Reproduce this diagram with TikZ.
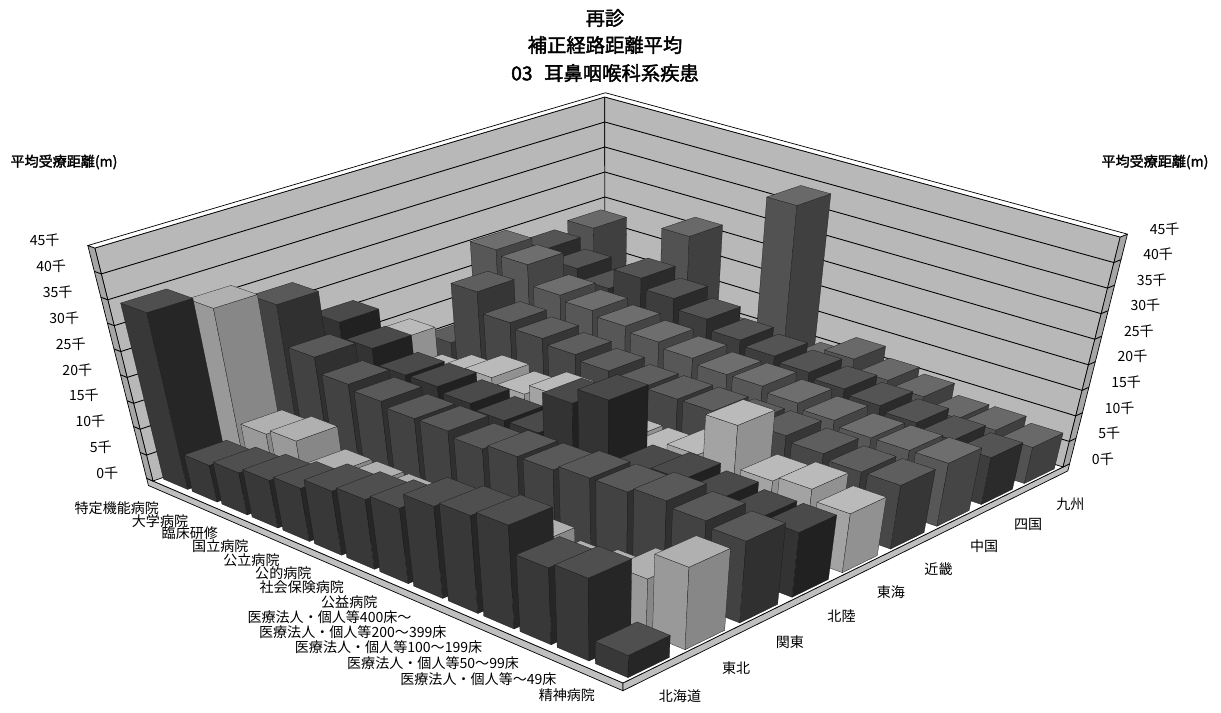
\documentclass[tikz,border=0pt]{standalone}
\usepackage{fontspec}
\newfontfamily\jp[AutoFakeBold=2]{Noto Sans CJK JP}
\usetikzlibrary{calc}

% (u,v,h) of the chart box onto the page, in pixels
\pgfkeys{/chart/.cd, u/.store in=\chU, v/.store in=\chV, h/.store in=\chH}
\tikzdeclarecoordinatesystem{chart}{%
  \pgfkeys{/chart/.cd,u=0,v=0,h=0,#1}%
  \pgfmathsetmacro\chW{1-0.14973*(\chU)+0.17005*(\chV)}%
  \pgfmathsetmacro\chX{(376.72*(\chU)+554.88*(\chV)+153)/\chW}%
  \pgfmathsetmacro\chY{(99.73*(\chU)-104.24*(\chV)+481)/\chW}%
  \pgfmathsetmacro\chZ{(\chH)/45*(233+17*(\chU)-8*(\chV)-12*(\chU)*(\chV))}%
  \pgfmathsetmacro\chT{(\chX-607)/(2300-\chY)}%
  \pgfmathsetmacro\chXX{\chX+(\chZ)*(\chT)}%
  \pgfmathsetmacro\chYY{\chY-(\chZ)}%
  \pgfpointxy{\chXX}{\chYY}%
}

\begin{document}
\begin{tikzpicture}[x=0.02cm, y=-0.02cm, line join=round]
\useasboundingbox (0,0) rectangle (1221,713);
\tikzstyle{every node} = [inner sep=0pt, font=\jp\fontsize{8}{9}\selectfont]
\tikzstyle{barface} = [draw=black!90, line width=0.15pt]
\tikzstyle{wall} = [draw=black, line width=0.4pt]
\def\hdata{{34,7,8,9,10,12,13,14,17,18,19,14,15,4,
  31,9,10,6,6,6,6,7,8,8,6,7,10,15,
  28,20,17,16,15,15,14,15,15,16,16,17,16,15,
  21,18,15,15,14,13,13,21,24,13,14,13,12,12,
  14,9,11,13,12,14,11,10,10,12,20,12,13,11,
  10,22,18,17,16,15,14,14,14,14,14,13,12,12,
  25,24,20,19,18,17,16,15,15,14,13,12,12,12,
  22,20,18,22,20,18,16,15,14,13,12,11,10,9,
  23,14,16,27,10,10,39,10,13,11,10,8,8,7}}
\def\gdata{{78,40,74,80,36,72,66,76,68}}
% floor
\filldraw[wall, fill=black!25] (chart cs:u=-0.016) -- (chart cs:u=1) -- (chart cs:u=1,h=-1.4) -- (chart cs:u=-0.016,h=-1.4) -- cycle;
\filldraw[wall, fill=black!25] (chart cs:u=1) -- (chart cs:u=1,v=1.018) -- (chart cs:u=1,v=1.018,h=-1.4) -- (chart cs:u=1,h=-1.4) -- cycle;
\filldraw[wall, fill=white] (chart cs:u=-0.016) -- (chart cs:u=1) -- (chart cs:u=1,v=1.018) -- (chart cs:u=-0.016,v=1.018) -- cycle;
% walls
\filldraw[wall, fill=black!28] (chart cs:u=0) -- (chart cs:v=1) -- (chart cs:v=1,h=45) -- (chart cs:h=45) -- cycle;
\filldraw[wall, fill=black!28] (chart cs:v=1) -- (chart cs:u=1,v=1) -- (chart cs:u=1,v=1,h=45) -- (chart cs:v=1,h=45) -- cycle;
\filldraw[wall, fill=black!35] (chart cs:u=-0.016) -- (chart cs:u=0) -- (chart cs:h=45) -- (chart cs:u=-0.016,h=45) -- cycle;
\filldraw[wall, fill=black!35] (chart cs:u=1,v=1) -- (chart cs:u=1,v=1.018) -- (chart cs:u=1,v=1.018,h=45) -- (chart cs:u=1,v=1,h=45) -- cycle;
\filldraw[wall, fill=white] (chart cs:u=-0.016,h=45) -- (chart cs:h=45) -- (chart cs:v=1,h=45) -- (chart cs:u=1,v=1,h=45) -- (chart cs:u=1,v=1.018,h=45) -- (chart cs:u=-0.016,v=1.018,h=45) -- cycle;
\foreach \k in {5,10,...,40}
  \draw[line width=0.5pt] (chart cs:u=-0.016,h=\k) -- (chart cs:h=\k) -- (chart cs:v=1,h=\k) -- (chart cs:u=1,v=1,h=\k) -- (chart cs:u=1,v=1.018,h=\k);
% bars, back rows first
\foreach \j in {8,7,...,0}{
  \pgfmathsetmacro\va{(\j+0.5)/9-0.04}
  \pgfmathsetmacro\vb{(\j+0.5)/9+0.04}
  \pgfmathtruncatemacro\gv{\gdata[\j]}
  \pgfmathtruncatemacro\gt{\gv-9}
  \pgfmathtruncatemacro\gs{min(\gv+7,95)}
  \foreach \i in {0,...,13}{
    \pgfmathsetmacro\ua{(\i+0.5)/14-0.03}
    \pgfmathsetmacro\ub{(\i+0.5)/14+0.03}
    \pgfmathsetmacro\hv{\hdata[\j*14+\i]}
    \coordinate (b1) at (chart cs:u=\ua,v=\va);
    \coordinate (b2) at (chart cs:u=\ub,v=\va);
    \coordinate (b3) at (chart cs:u=\ub,v=\vb);
    \coordinate (t0) at (chart cs:u=\ua,v=\va,h=\hv);
    \coordinate (t1) at (chart cs:u=\ub,v=\va,h=\hv);
    \coordinate (t2) at (chart cs:u=\ub,v=\vb,h=\hv);
    \coordinate (t3) at (chart cs:u=\ua,v=\vb,h=\hv);
    \filldraw[barface, fill=black!\gv] (b1) -- (b2) -- (t1) -- (t0) -- cycle;
    \filldraw[barface, fill=black!\gs] (b2) -- (b3) -- (t2) -- (t1) -- cycle;
    \filldraw[barface, fill=black!\gt] (t0) -- (t1) -- (t2) -- (t3) -- cycle;
  }
}
% value axes
\foreach \k in {0,5,...,45}{
  \node[anchor=east] (tl\k) at ($(chart cs:u=-0.016,h=\k)+(-28,-5)$) {\k{}千};
  \node[anchor=west] (tr\k) at ($(chart cs:u=1,v=1.018,h=\k)+(22,-5)$) {\k{}千};
}
\node[font=\jp\bfseries\fontsize{8}{9}\selectfont] (ytl) at (64,162) {平均受療距離(m)};
\node[font=\jp\bfseries\fontsize{8}{9}\selectfont] (ytr) at (1155,162) {平均受療距離(m)};
% category and region labels
\foreach \c [count=\i from 0] in {特定機能病院,大学病院,臨床研修,国立病院,公立病院,公的病院,社会保険病院,公益病院,医療法人・個人等400床～,医療法人・個人等200～399床,医療法人・個人等100～199床,医療法人・個人等50～99床,医療法人・個人等～49床,精神病院}{
  \pgfmathsetmacro\uc{(\i+0.5)/14}
  \node[anchor=east] (cat\i) at ($(chart cs:u=\uc)+(-8,21)$) {\c};
}
\foreach \r [count=\j from 0] in {北海道,東北,関東,北陸,東海,近畿,中国,四国,九州}{
  \pgfmathsetmacro\vc{(\j+0.5)/9}
  \node (reg\j) at ($(chart cs:u=1,v=\vc)+(28,27)$) {\r};
}
% title
\tikzstyle{every node} = [inner sep=0pt, font=\jp\bfseries\fontsize{11}{13}\selectfont]
\node (t1) at (605,18) {再診};
\node (t2) at (605,45) {補正経路距離平均};
\node (t3) at (605,73) {03\hspace{0.6em}耳鼻咽喉科系疾患};
\end{tikzpicture}
\end{document}
